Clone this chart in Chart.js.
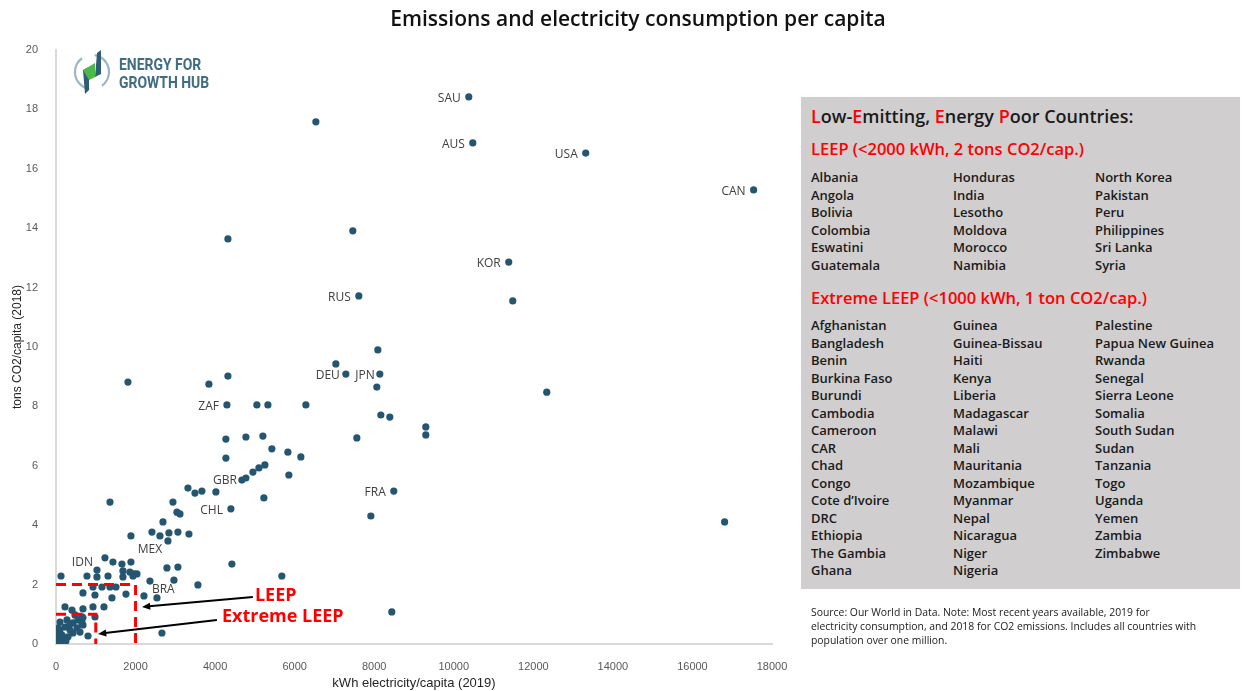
<!doctype html>
<html lang="en">
<head>
  <meta charset="utf-8">
  <title>Emissions and electricity consumption per capita</title>
  <style>
    body { margin: 0; background: #fff; font-family: "Open Sans", sans-serif; }
    #wrap { position: relative; width: 1242px; height: 691px; overflow: hidden; }
    #panel { position: absolute; left: 801px; top: 97px; width: 439px; height: 492px; background: #d0cecf; }
    .txt { position: absolute; white-space: nowrap; color: #1a1a1a; }
    .hd { font-size: 18px; font-weight: 600; line-height: 22px; }
    .red { color: #ff0000; }
    .sub { font-size: 16.5px; font-weight: 600; line-height: 22px; color: #ff0000; }
    .col { font-size: 13px; font-weight: 600; line-height: 17.5px; }
    #source { position: absolute; left: 811px; top: 605px; font-size: 10.4px; line-height: 14px; color: #1a1a1a; white-space: nowrap; }
  </style>
</head>
<body>
<div id="wrap">
  <canvas id="myChart" width="1242" height="691"></canvas>
  <div id="panel"></div>
  <div class="txt hd" style="left:811px;top:105px"><span class="red">L</span>ow-<span class="red">E</span>mitting, <span class="red">E</span>nergy <span class="red">P</span>oor Countries:</div>
  <div class="txt sub" style="left:811px;top:138px">LEEP (&lt;2000 kWh, 2 tons CO2/cap.)</div>
  <div class="txt col" id="leep1" style="left:811px;top:169px"></div>
  <div class="txt col" id="leep2" style="left:953px;top:169px"></div>
  <div class="txt col" id="leep3" style="left:1095px;top:169px"></div>
  <div class="txt sub" style="left:811px;top:287px">Extreme LEEP (&lt;1000 kWh, 1 ton CO2/cap.)</div>
  <div class="txt col" id="ext1" style="left:811px;top:317px"></div>
  <div class="txt col" id="ext2" style="left:953px;top:317px"></div>
  <div class="txt col" id="ext3" style="left:1095px;top:317px"></div>
  <div id="source">Source: Our World in Data. Note: Most recent years available, 2019 for<br>electricity consumption, and 2018 for CO2 emissions. Includes all countries with<br>population over one million.</div>
</div>

<script src="https://cdn.jsdelivr.net/npm/chart.js@4.4.2/dist/chart.umd.min.js"></script>
<script>
  // kWh electricity per capita (2019)
  const elecKwh = [
    10377, 6533, 10478, 13317, 17538, 4322, 7462, 11382, 7613, 11483,
    8091, 7035, 7287, 8141, 8065, 1809, 3844, 4322, 4297, 5050,
    5327, 6282, 8166, 8392, 9297, 9297, 12337, 7563, 4271, 4774,
    5201, 5427, 5829, 6156, 4271, 5854, 4673, 4774, 4950, 5101,
    5251, 3317, 3493, 3668, 4020, 5226, 4397, 2940, 3040, 3116,
    2689, 2412, 2613, 2839, 3065, 3342, 2814, 1357, 1884, 8492,
    7915, 16809, 1231, 1432, 1658, 1884, 1030, 1683, 1859, 1960,
    2035, 126, 779, 1030, 1307, 1683, 1935, 2789, 3065, 4422,
    2362, 2965, 3568, 5678, 678, 930, 1156, 1357, 1508, 980,
    1407, 1759, 2211, 2538, 226, 402, 678, 930, 1206, 477,
    653, 980, 678, 804, 2663, 8442, 101, 276, 427, 553,
    678, 50, 226, 352, 528, 25, 151, 302, 427, 25,
    101, 10, 176, 603, 653, 5, 50, 251, 352, 101
  ];
  // tons CO2 per capita (2018)
  const co2Tons = [
    18.42, 17.58, 16.87, 16.53, 15.29, 13.64, 13.91, 12.86, 11.72, 11.55,
    9.90, 9.43, 9.09, 9.09, 8.65, 8.82, 8.75, 9.02, 8.05, 8.05,
    8.05, 8.05, 7.71, 7.64, 7.31, 7.04, 8.48, 6.94, 6.90, 6.97,
    7.00, 6.57, 6.46, 6.30, 6.26, 5.69, 5.52, 5.59, 5.79, 5.93,
    6.03, 5.25, 5.08, 5.15, 5.12, 4.92, 4.55, 4.78, 4.44, 4.38,
    4.11, 3.77, 3.64, 3.74, 3.77, 3.70, 3.47, 4.78, 3.64, 5.15,
    4.31, 4.11, 2.90, 2.76, 2.69, 2.76, 2.49, 2.46, 2.42, 2.36,
    2.36, 2.29, 2.29, 2.26, 2.29, 2.26, 2.29, 2.56, 2.59, 2.69,
    2.12, 2.15, 1.99, 2.29, 1.72, 1.92, 1.92, 1.92, 1.92, 1.65,
    1.55, 1.68, 1.62, 1.55, 1.25, 1.14, 1.18, 1.25, 1.25, 0.98,
    0.91, 0.91, 0.64, 0.27, 0.37, 1.08, 0.74, 0.81, 0.71, 0.81,
    0.88, 0.54, 0.57, 0.47, 0.54, 0.24, 0.30, 0.24, 0.37, 0.03,
    0.07, 0.13, 0.13, 0.40, 0.71, 0.40, 0.02, 0.10, 0.67, 0.47
  ];
  // country codes shown next to a dot ('' = no label)
  const isoCodes = elecKwh.map(() => '');
  const labelled = { 0: 'SAU', 2: 'AUS', 3: 'USA', 4: 'CAN', 7: 'KOR', 8: 'RUS', 12: 'DEU', 13: 'JPN',
    18: 'ZAF', 36: 'GBR', 46: 'CHL', 52: 'MEX', 59: 'FRA', 62: 'IDN', 80: 'BRA' };
  Object.keys(labelled).forEach(k => { isoCodes[k] = labelled[k]; });

  // the two threshold boxes, in data units
  const leepBox = [{ x: 0, y: 2 }, { x: 2000, y: 2 }, { x: 2000, y: 0 }];
  const extremeBox = [{ x: 0, y: 1 }, { x: 1000, y: 1 }, { x: 1000, y: 0 }];
  // arrows: [tailX, tailY, tipX, tipY] in data units
  const leepArrow = [4950, 1.58, 2160, 1.25];
  const extremeArrow = [4045, 0.81, 1055, 0.34];

  const xTicks = [0, 2000, 4000, 6000, 8000, 10000, 12000, 14000, 16000, 18000];
  const yTicks = [0, 2, 4, 6, 8, 10, 12, 14, 16, 18, 20];

  const leepList = [
    ['Albania', 'Angola', 'Bolivia', 'Colombia', 'Eswatini', 'Guatemala'],
    ['Honduras', 'India', 'Lesotho', 'Moldova', 'Morocco', 'Namibia'],
    ['North Korea', 'Pakistan', 'Peru', 'Philippines', 'Sri Lanka', 'Syria']
  ];
  const extremeList = [
    ['Afghanistan', 'Bangladesh', 'Benin', 'Burkina Faso', 'Burundi', 'Cambodia', 'Cameroon', 'CAR',
     'Chad', 'Congo', 'Cote d\u2019Ivoire', 'DRC', 'Ethiopia', 'The Gambia', 'Ghana'],
    ['Guinea', 'Guinea-Bissau', 'Haiti', 'Kenya', 'Liberia', 'Madagascar', 'Malawi', 'Mali',
     'Mauritania', 'Mozambique', 'Myanmar', 'Nepal', 'Nicaragua', 'Niger', 'Nigeria'],
    ['Palestine', 'Papua New Guinea', 'Rwanda', 'Senegal', 'Sierra Leone', 'Somalia', 'South Sudan', 'Sudan',
     'Tanzania', 'Togo', 'Uganda', 'Yemen', 'Zambia', 'Zimbabwe']
  ];
  leepList.forEach((c, i) => { document.getElementById('leep' + (i + 1)).innerHTML = c.join('<br>'); });
  extremeList.forEach((c, i) => { document.getElementById('ext' + (i + 1)).innerHTML = c.join('<br>'); });

  const labelOffsets = {
    default: { align: 'right', dx: -8, dy: 2 },
    GBR: { align: 'right', dx: -5, dy: 1 },
    JPN: { align: 'right', dx: -5, dy: 2 },
    DEU: { align: 'right', dx: -6, dy: 2 },
    MEX: { align: 'center', dx: -10, dy: 14 },
    IDN: { align: 'right', dx: -12, dy: 5 },
    BRA: { align: 'left', dx: 2, dy: 9 }
  };

  const countryLabels = {
    id: 'countryLabels',
    afterDatasetsDraw(chart) {
      const ctx = chart.ctx;
      const meta = chart.getDatasetMeta(2);
      ctx.save();
      ctx.font = '12px "Open Sans"';
      ctx.fillStyle = '#404040';
      ctx.textBaseline = 'middle';
      isoCodes.forEach((code, i) => {
        if (!code) return;
        const pt = meta.data[i];
        const o = labelOffsets[code] || labelOffsets.default;
        ctx.textAlign = o.align;
        ctx.fillText(code, pt.x + o.dx, pt.y + o.dy);
      });
      ctx.restore();
    }
  };

  function drawArrow(ctx, x0, y0, x1, y1) {
    const ang = Math.atan2(y1 - y0, x1 - x0);
    const head = 9;
    ctx.beginPath();
    ctx.moveTo(x0, y0);
    ctx.lineTo(x1 - Math.cos(ang) * head * 0.8, y1 - Math.sin(ang) * head * 0.8);
    ctx.stroke();
    ctx.beginPath();
    ctx.moveTo(x1, y1);
    ctx.lineTo(x1 - head * Math.cos(ang - 0.4), y1 - head * Math.sin(ang - 0.4));
    ctx.lineTo(x1 - head * Math.cos(ang + 0.4), y1 - head * Math.sin(ang + 0.4));
    ctx.closePath();
    ctx.fill();
  }

  const extras = {
    id: 'extras',
    afterDraw(chart) {
      const ctx = chart.ctx;
      const xs = chart.scales.x, ys = chart.scales.y;
      ctx.save();
      // title
      ctx.fillStyle = '#111';
      ctx.font = '600 21px "Open Sans"';
      ctx.textAlign = 'center';
      ctx.textBaseline = 'middle';
      ctx.fillText('Emissions and electricity consumption per capita', 638, 20);

      // arrows + labels
      ctx.strokeStyle = '#000';
      ctx.fillStyle = '#000';
      ctx.lineWidth = 2;
      [leepArrow, extremeArrow].forEach(a => {
        drawArrow(ctx, xs.getPixelForValue(a[0]), ys.getPixelForValue(a[1]),
          xs.getPixelForValue(a[2]), ys.getPixelForValue(a[3]));
      });
      ctx.fillStyle = '#ff0000';
      ctx.font = 'bold 18px "Open Sans"';
      ctx.textAlign = 'left';
      ctx.fillText('LEEP', xs.getPixelForValue(leepArrow[0]) + 2, ys.getPixelForValue(leepArrow[1]) - 1);
      ctx.fillText('Extreme LEEP', xs.getPixelForValue(extremeArrow[0]) + 5, ys.getPixelForValue(extremeArrow[1]) - 3);

      // logo mark
      const cx = 92, cy = 72;
      ctx.strokeStyle = '#9db7c4';
      ctx.lineWidth = 2.2;
      ctx.beginPath(); ctx.arc(cx, cy, 17, Math.PI * 0.55, Math.PI * 1.3); ctx.stroke();
      ctx.beginPath(); ctx.arc(cx, cy, 17, Math.PI * 1.55, Math.PI * 0.3); ctx.stroke();
      ctx.fillStyle = '#2f5d75';
      ctx.beginPath(); ctx.moveTo(83, 70); ctx.lineTo(89, 67); ctx.lineTo(89, 90); ctx.lineTo(85, 94); ctx.closePath(); ctx.fill();
      ctx.beginPath(); ctx.moveTo(97, 53); ctx.lineTo(101, 50); ctx.lineTo(101, 74); ctx.lineTo(95, 77); ctx.closePath(); ctx.fill();
      ctx.fillStyle = '#4cb848';
      ctx.beginPath(); ctx.moveTo(83, 70); ctx.lineTo(95, 63); ctx.lineTo(95, 77); ctx.lineTo(89, 80); ctx.closePath(); ctx.fill();
      ctx.fillStyle = '#3f6d82';
      ctx.font = 'bold 17px Roboto';
      ctx.textBaseline = 'alphabetic';
      ctx.save();
      ctx.translate(119, 70);
      ctx.scale(0.82, 1);
      ctx.fillText('ENERGY FOR', 0, 0);
      ctx.fillText('GROWTH HUB', 0, 18);
      ctx.restore();
      ctx.restore();
    }
  };

  const ctx = document.getElementById('myChart');

  new Chart(ctx, {
    type: 'scatter',
    data: {
      datasets: [{
        data: leepBox,
        showLine: true,
        borderColor: '#ff0000',
        borderWidth: 3,
        borderDash: [10, 6],
        pointRadius: 0,
        fill: false,
        order: 0
      }, {
        data: extremeBox,
        showLine: true,
        borderColor: '#ff0000',
        borderWidth: 3,
        borderDash: [10, 6],
        pointRadius: 0,
        fill: false,
        order: 0
      }, {
        data: elecKwh.map((v, i) => ({ x: v, y: co2Tons[i] })),
        backgroundColor: '#245571',
        borderWidth: 0,
        pointRadius: 3.6,
        order: 1
      }]
    },
    options: {
      responsive: false,
      animation: false,
      layout: { padding: { top: 50, right: 470, left: 0, bottom: 0 } },
      plugins: { legend: { display: false }, tooltip: { enabled: false } },
      scales: {
        x: {
          type: 'linear',
          min: 0,
          max: 18000,
          afterBuildTicks: s => { s.ticks = xTicks.map(v => ({ value: v })); },
          afterFit: s => { s.height = 47; },
          ticks: { color: '#595959', font: { size: 11 }, padding: 8, callback: v => String(v) },
          grid: { display: false },
          border: { color: '#d9d9d9', width: 2 },
          title: { display: true, text: 'kWh electricity/capita (2019)', color: '#262626', font: { size: 13 }, padding: { top: 0, bottom: 0 } }
        },
        y: {
          min: 0,
          max: 20,
          afterBuildTicks: s => { s.ticks = yTicks.map(v => ({ value: v })); },
          afterFit: s => { s.width = 56; },
          ticks: { color: '#595959', font: { size: 11 }, padding: 10, callback: v => String(v) },
          grid: { display: false },
          border: { color: '#d9d9d9', width: 2 },
          title: { display: true, text: 'tons CO2/capita (2018)', color: '#262626', font: { size: 12 }, padding: { top: 10, bottom: 0 } }
        }
      }
    },
    plugins: [countryLabels, extras]
  });
</script>
</body>
</html>
